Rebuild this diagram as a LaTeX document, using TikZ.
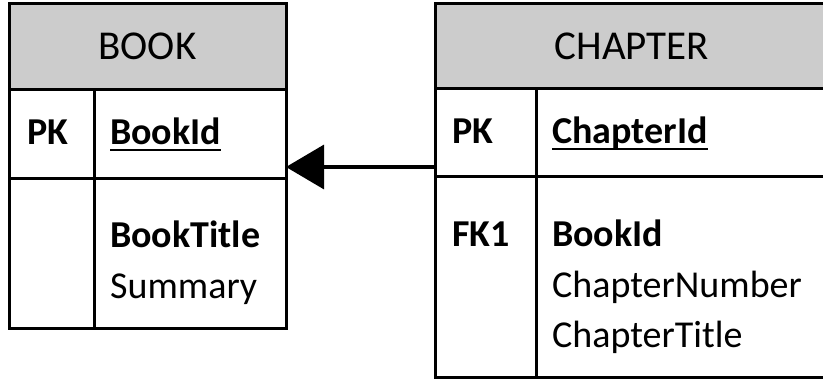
\documentclass[tikz,border=0pt]{standalone}
\usepackage{fontspec}
\setmainfont{Carlito}
\usetikzlibrary{arrows.meta}
\definecolor{hdrgray}{RGB}{204,204,204}
\tikzset{
  frame/.style={draw=black, line width=3pt, line join=miter},
  hdrcell/.style={frame, fill=hdrgray},
  tablebox/.style={draw=none, inner sep=0pt, outer sep=0pt, anchor=north west},
  hdrtext/.style={inner sep=0pt, anchor=base, font=\fontsize{41}{49}\selectfont},
  keytext/.style={inner sep=0pt, anchor=base west, font=\fontsize{38}{46}\selectfont\bfseries},
  fieldtext/.style={inner sep=0pt, anchor=base west, font=\fontsize{38}{46}\selectfont},
  uline/.style={line width=2.2pt},
  fklink/.style={line width=3.3pt, -{Triangle[length=38pt,width=44pt]}}
}
\begin{document}
\begin{tikzpicture}[x=1pt, y=-1pt]
\useasboundingbox (0,0) rectangle (823,379);

% ---- BOOK table ----
\draw[hdrcell] (9,4) rectangle (286,90);
\draw[frame] (9,90) rectangle (286,179);
\draw[frame] (9,179) rectangle (286,329);
\draw[frame] (94,90) -- (94,329);
\node[tablebox, minimum width=277pt, minimum height=325pt] (book) at (9,4) {};

\node[hdrtext] (bookhdr) at (147.5,60) {BOOK};
\node[keytext] (bookpk) at (27,145) {PK};
\node[keytext] (bookid) at (110,145) {BookId};
\draw[uline] ([yshift=-5pt]bookid.base west) -- ([yshift=-5pt]bookid.base east);
\node[keytext] (booktitle) at (110,248) {BookTitle};
\node[fieldtext] (booksummary) at (110,299) {Summary};

% ---- CHAPTER table ----
\draw[hdrcell] (435,4) rectangle (829,89);
\draw[frame] (435,89) rectangle (829,177);
\draw[frame] (435,177) rectangle (829,378);
\draw[frame] (536,89) -- (536,378);
\node[tablebox, minimum width=394pt, minimum height=374pt] (chapter) at (435,4) {};

\node[hdrtext] (chaphdr) at (632,60) {CHAPTER};
\node[keytext] (chappk) at (452,144) {PK};
\node[keytext] (chapid) at (552,144) {ChapterId};
\draw[uline] ([yshift=-5pt]chapid.base west) -- ([yshift=-5pt]chapid.base east);
\node[keytext] (chapfk) at (452,247) {FK1};
\node[keytext] (chapbookid) at (552,247) {BookId};
\node[fieldtext] (chapnum) at (552,298) {ChapterNumber};
\node[fieldtext] (chaptitle) at (552,348) {ChapterTitle};

% ---- foreign key reference ----
\draw[fklink] (chapter.west |- 0,167) -- (book.east |- 0,167);
\end{tikzpicture}
\end{document}
